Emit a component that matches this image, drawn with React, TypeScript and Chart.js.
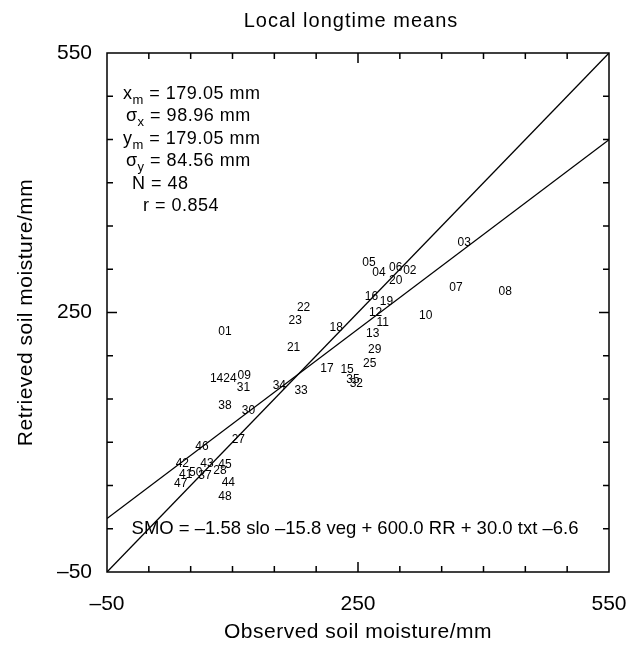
import React, { useEffect, useRef } from 'react';
import { Chart, registerables } from 'chart.js';

Chart.register(...registerables);

const FONT = '"Liberation Sans", Arial, Helvetica, sans-serif';

// Station labels and their observed / retrieved soil moisture (mm)
const stationIds = [
  '01', '02', '03', '04', '05', '06', '07', '08', '09', '10',
  '11', '12', '13', '14', '15', '16', '17', '18', '19', '20',
  '21', '22', '23', '24', '25', '27', '28', '29', '30', '31',
  '32', '33', '34', '35', '37', '38', '41', '42', '43', '44',
  '45', '46', '47', '48', '50',
];
const observedMm = [
  91, 312, 377, 275, 263, 295, 367, 426, 114, 331,
  279.5, 271, 267.5, 81, 237, 266, 213, 224, 284, 295,
  173, 185, 175, 97, 264, 107, 85, 270, 119, 113,
  248, 182, 156, 244, 67, 91, 44, 40, 69.5, 95,
  91, 63.5, 38, 91, 56,
];
const retrievedMm = [
  228, 298, 331, 296, 308, 302, 279, 274, 176.6, 246,
  238, 250, 226, 173, 183.5, 268, 185, 233, 263, 287,
  209, 256, 241, 173, 191, 103, 67, 207, 136.5, 163,
  168, 160, 165, 172, 61, 142, 62, 75, 75, 53,
  74, 94.5, 52, 37, 64.5,
];

// Reference lines
const oneToOneX = [-50, 550];
const oneToOneY = [-50, 550];
const regressionX = [-50, 550];
const regressionY = [11.9, 449.8];

// Axes
const axisMin = -50;
const axisMax = 550;
const tickValues = [-50, 250, 550];
const tickLabels = ['\u201350', '250', '550'];
const minorTickValues = [0, 50, 100, 150, 200, 250, 300, 350, 400, 450, 500];
const majorTickValue = 250;

// Texts
const titleText = 'Local longtime means';
const xAxisTitle = 'Observed soil moisture/mm';
const yAxisTitle = 'Retrieved soil moisture/mm';
const statSymbols = ['x', '\u03c3', 'y', '\u03c3', 'N', 'r'];
const statSubscripts = ['m', 'x', 'm', 'y', '', ''];
const statValues = ['179.05 mm', '98.96 mm', '179.05 mm', '84.56 mm', '48', '0.854'];
const formulaText = 'SMO = \u20131.58 slo \u201315.8 veg + 600.0 RR + 30.0 txt \u20136.6';

const statLeft = [123, 126, 123, 126, 132, 143];
const statBaseline = [99, 121, 144, 166, 189, 211];

const overlay = {
  id: 'overlay',
  afterDatasetsDraw(chart: any) {
    const { ctx, chartArea: a, scales } = chart;
    const xs = scales.x;
    const ys = scales.y;
    ctx.save();
    ctx.fillStyle = '#000';
    ctx.strokeStyle = '#000';

    // station labels
    const meta = chart.getDatasetMeta(2);
    ctx.font = `12px ${FONT}`;
    ctx.textAlign = 'center';
    ctx.textBaseline = 'middle';
    meta.data.forEach((p: any, i: number) => {
      ctx.fillText(stationIds[i], p.x, p.y);
    });

    // frame
    ctx.lineWidth = 1.5;
    ctx.strokeRect(a.left, a.top, a.right - a.left, a.bottom - a.top);

    // inward ticks
    ctx.beginPath();
    minorTickValues.forEach((v) => {
      const len = v === majorTickValue ? 10 : 6;
      const px = xs.getPixelForValue(v);
      ctx.moveTo(px, a.bottom);
      ctx.lineTo(px, a.bottom - len);
      ctx.moveTo(px, a.top);
      ctx.lineTo(px, a.top + len);
      const py = ys.getPixelForValue(v);
      ctx.moveTo(a.left, py);
      ctx.lineTo(a.left + len, py);
      ctx.moveTo(a.right, py);
      ctx.lineTo(a.right - len, py);
    });
    ctx.stroke();

    // statistics block
    ctx.textBaseline = 'alphabetic';
    ctx.textAlign = 'left';
    (ctx as any).letterSpacing = '0.5px';
    statSymbols.forEach((sym, i) => {
      let x = statLeft[i];
      const y = statBaseline[i];
      ctx.font = `18px ${FONT}`;
      ctx.fillText(sym, x, y);
      x += ctx.measureText(sym).width;
      if (statSubscripts[i]) {
        ctx.font = `13px ${FONT}`;
        ctx.fillText(statSubscripts[i], x, y + 5);
        x += ctx.measureText(statSubscripts[i]).width;
      }
      ctx.font = `18px ${FONT}`;
      ctx.fillText(' = ' + statValues[i], x, y);
    });

    // formula
    (ctx as any).letterSpacing = '0px';
    ctx.font = `18.5px ${FONT}`;
    ctx.textAlign = 'center';
    ctx.fillText(formulaText, 355, 534);

    // title
    (ctx as any).letterSpacing = '1px';
    ctx.font = `20px ${FONT}`;
    ctx.fillText(titleText, 351, 27);

    // axis titles
    (ctx as any).letterSpacing = '0.5px';
    ctx.font = `21px ${FONT}`;
    ctx.fillText(xAxisTitle, (a.left + a.right) / 2, 638);
    ctx.save();
    ctx.translate(32, (a.top + a.bottom) / 2);
    ctx.rotate(-Math.PI / 2);
    ctx.fillText(yAxisTitle, 0, 0);
    ctx.restore();

    ctx.restore();
  },
};

export default function App() {
  const canvasRef = useRef<HTMLCanvasElement | null>(null);

  useEffect(() => {
    const canvas = canvasRef.current;
    if (!canvas) return;
    Chart.defaults.color = '#000';
    const tickFont = { family: FONT, size: 21 };
    const labelFor = (v: number) => {
      const idx = tickValues.indexOf(Number(v));
      return idx >= 0 ? tickLabels[idx] : '';
    };
    const chart = new Chart(canvas, {
      type: 'scatter',
      data: {
        datasets: [
          {
            data: oneToOneX.map((x, i) => ({ x, y: oneToOneY[i] })),
            showLine: true,
            borderColor: '#000',
            borderWidth: 1.3,
            pointRadius: 0,
          },
          {
            data: regressionX.map((x, i) => ({ x, y: regressionY[i] })),
            showLine: true,
            borderColor: '#000',
            borderWidth: 1.3,
            pointRadius: 0,
          },
          {
            data: observedMm.map((x, i) => ({ x, y: retrievedMm[i] })),
            showLine: false,
            pointRadius: 0,
          },
        ],
      },
      options: {
        responsive: false,
        animation: false,
        events: [],
        layout: { padding: { left: 0, right: 32, top: 53, bottom: 0 } },
        plugins: {
          legend: { display: false },
          tooltip: { enabled: false },
          title: { display: false },
        },
        scales: {
          x: {
            type: 'linear',
            min: axisMin,
            max: axisMax,
            grid: { display: false, drawTicks: false },
            border: { display: false },
            afterBuildTicks: (s: any) => {
              s.ticks = tickValues.map((v) => ({ value: v }));
            },
            afterFit: (s: any) => {
              s.height = 77;
              s.paddingLeft = 0;
              s.paddingRight = 0;
            },
            ticks: {
              padding: 20,
              font: tickFont,
              color: '#000',
              maxRotation: 0,
              autoSkip: false,
              callback: (v: any) => labelFor(v),
            },
          },
          y: {
            type: 'linear',
            min: axisMin,
            max: axisMax,
            grid: { display: false, drawTicks: false },
            border: { display: false },
            afterBuildTicks: (s: any) => {
              s.ticks = tickValues.map((v) => ({ value: v }));
            },
            afterFit: (s: any) => {
              s.width = 107;
              s.paddingTop = 0;
              s.paddingBottom = 0;
            },
            ticks: {
              padding: 15,
              font: tickFont,
              color: '#000',
              autoSkip: false,
              callback: (v: any) => labelFor(v),
            },
          },
        },
      } as any,
      plugins: [overlay],
    });
    return () => chart.destroy();
  }, []);

  return (
    <div style={{ position: 'absolute', left: 0, top: 0, width: 641, height: 649, background: '#fff' }}>
      <canvas ref={canvasRef} width={641} height={649} style={{ display: 'block' }} />
    </div>
  );
}
